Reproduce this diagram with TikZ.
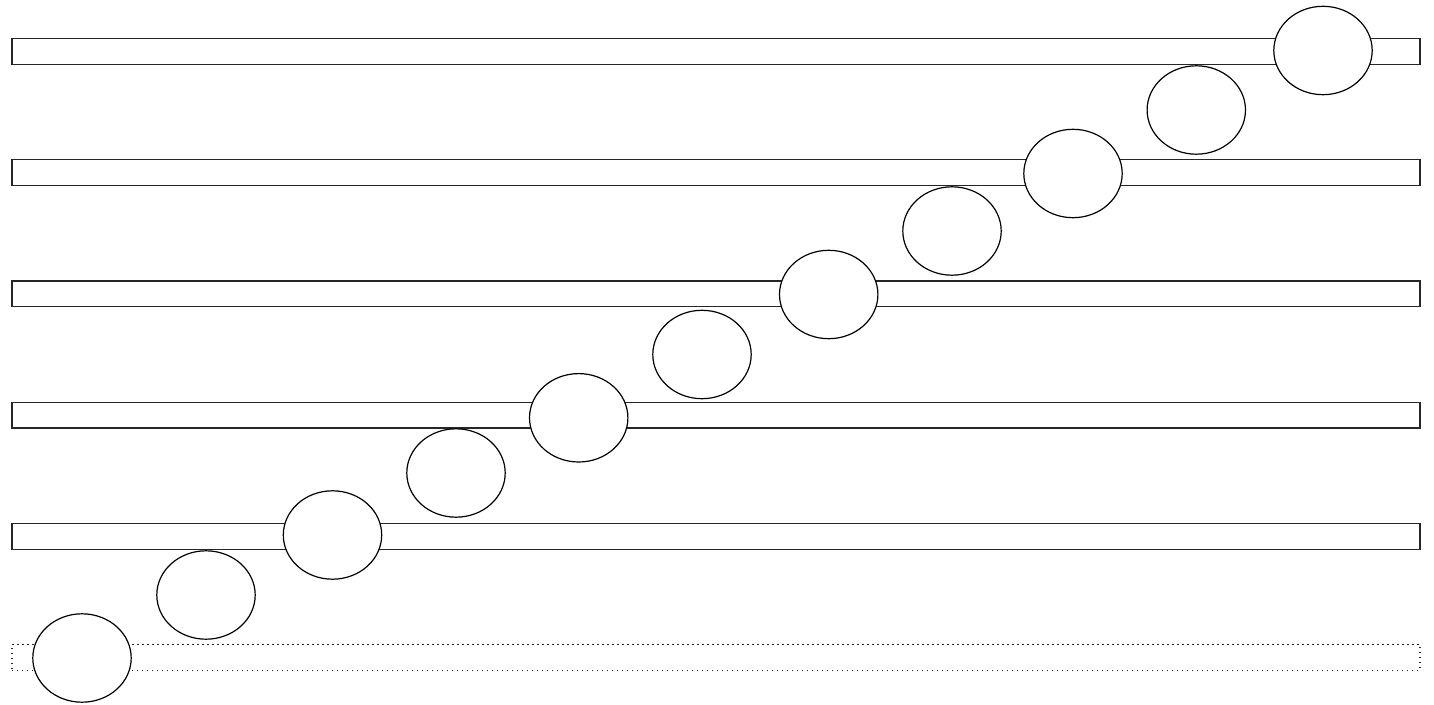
\documentclass[tikz,border=0pt]{standalone}
\usetikzlibrary{shapes.geometric}
\begin{document}
\begin{tikzpicture}[x=0.5pt,y=-0.5pt,
  bar/.style={draw=black!85,line width=0.6pt,rectangle,minimum width=704pt,minimum height=12.8pt,inner sep=0pt,outer sep=0pt},
  dotbar/.style={bar,dash pattern=on 0.6pt off 1.9pt},
  bead/.style={draw=black,fill=white,line width=0.6pt,ellipse,minimum width=49.2pt,minimum height=44.2pt,inner sep=0pt,outer sep=0pt}]
\useasboundingbox (0,0) rectangle (1434,705);
\node[bar] (b1) at (716,51.5) {};
\node[bar] (b2) at (716,172.7) {};
\node[bar] (b3) at (716,293.9) {};
\node[bar] (b4) at (716,415.1) {};
\node[bar] (b5) at (716,536.3) {};
\node[dotbar] (b6) at (716,657.5) {};
\node[bead] (c1) at (82,658) {};
\node[bead] (c2) at (206,595) {};
\node[bead] (c3) at (332.5,535) {};
\node[bead] (c4) at (456,473) {};
\node[bead] (c5) at (578.7,417.8) {};
\node[bead] (c6) at (702,354.5) {};
\node[bead] (c7) at (828.7,294.5) {};
\node[bead] (c8) at (952,231) {};
\node[bead] (c9) at (1073,173.5) {};
\node[bead] (c10) at (1196.3,110) {};
\node[bead] (c11) at (1323,50.5) {};
\end{tikzpicture}
\end{document}
